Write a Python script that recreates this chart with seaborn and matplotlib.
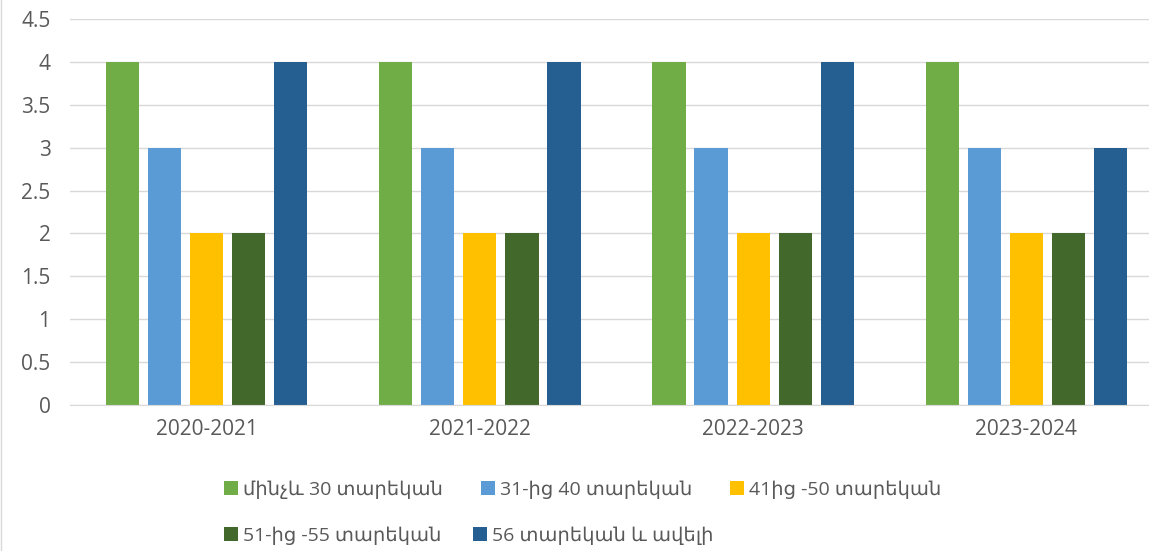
import pandas as pd
import numpy as np
import matplotlib
matplotlib.use('Agg')
import matplotlib.pyplot as plt
import seaborn as sns

sns.set_style('white')
plt.rcParams['font.family'] = ['Open Sans', 'DejaVu Sans']

years = ['2020-2021', '2021-2022', '2022-2023', '2023-2024']
groups = ['մինչև 30 տարեկան', '31-ից 40 տարեկան', '41ից -50 տարեկան',
          '51-ից -55 տարեկան', '56 տարեկան և ավելի']
under30 = [4, 4, 4, 4]
age31_40 = [3, 3, 3, 3]
age41_50 = [2, 2, 2, 2]
age51_55 = [2, 2, 2, 2]
age56plus = [4, 4, 4, 3]
colors = ['#70AD47', '#5B9BD5', '#FFC000', '#43682B', '#255E91']

rows = []
for g, vals in zip(groups, [under30, age31_40, age41_50, age51_55, age56plus]):
    for y, v in zip(years, vals):
        rows.append({'year': y, 'group': g, 'value': v})
df = pd.DataFrame(rows)

fig = plt.figure(figsize=(11.49, 5.51), dpi=100)
ax = fig.add_axes([70/1149, 146/551, 1093/1149, 386/551])

sns.barplot(data=df, x='year', y='value', hue='group', hue_order=groups,
            palette=colors, saturation=1, width=0.77, gap=0.21,
            linewidth=0, ax=ax, legend=True)

ax.set_ylim(0, 4.5)
ax.set_yticks(np.arange(0, 4.6, 0.5))
ax.set_yticklabels(['0', '0.5', '1', '1.5', '2', '2.5', '3', '3.5', '4', '4.5'])
ax.yaxis.grid(True, color='#D9D9D9', linewidth=1)
ax.set_axisbelow(True)
for s in ['left', 'right', 'top']:
    ax.spines[s].set_visible(False)
ax.spines['bottom'].set_color('#D9D9D9')
ax.tick_params(axis='both', length=0, labelsize=15, colors='#595959')
ax.tick_params(axis='x', pad=10)
ax.tick_params(axis='y', pad=14)
ax.set_xlabel('')
ax.set_ylabel('')

handles, labels = ax.get_legend_handles_labels()
ax.get_legend().remove()

# Excel lays the legend out in equal slots; two rows done as two legends
leg_kw = dict(loc='center left', frameon=False, fontsize=14, labelcolor='#595959',
              handlelength=0.72, handleheight=0.72, handletextpad=0.26,
              borderpad=0, borderaxespad=0)
leg1 = fig.legend(handles[:3], labels[:3], ncol=3, columnspacing=1.95,
                  bbox_to_anchor=(224/1149, 1 - 490/551), **leg_kw)
leg2 = fig.legend(handles[3:], labels[3:], ncol=2, columnspacing=1.62,
                  bbox_to_anchor=(224/1149, 1 - 536/551), **leg_kw)

fig.add_artist(plt.Line2D([0.5/1149, 0.5/1149], [0, 1], color='#D9D9D9', lw=1))

fig.savefig('out.png', dpi=100)
